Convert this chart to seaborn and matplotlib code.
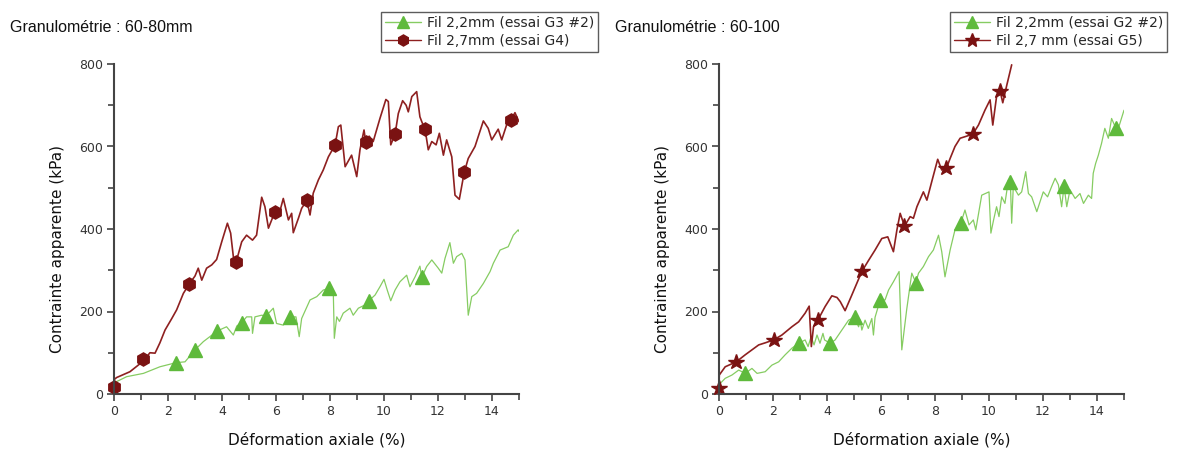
import matplotlib
matplotlib.use("Agg")
import matplotlib.pyplot as plt
import seaborn as sns
import pandas as pd
from matplotlib.lines import Line2D

# ---------------- data ----------------
# Left panel: Granulométrie 60-80mm
g4_x = [0.0, 0.02, 0.1, 0.59, 1.09, 1.33, 1.52, 1.70, 1.89, 2.14, 2.32, 2.57, 2.79, 3.0, 3.12, 3.25,
        3.43, 3.62, 3.80, 3.99, 4.20, 4.32, 4.42, 4.52, 4.73, 4.91, 5.13, 5.28, 5.47, 5.59, 5.72, 5.96,
        6.09, 6.27, 6.46, 6.58, 6.64, 6.83, 6.95, 7.14, 7.26, 7.38, 7.57, 7.75, 7.94, 8.19, 8.31, 8.40,
        8.56, 8.80, 8.99, 9.11, 9.26, 9.32, 9.45, 9.60, 9.85, 10.07, 10.16, 10.25, 10.41, 10.53, 10.69,
        10.82, 10.90, 11.03, 11.21, 11.33, 11.40, 11.52, 11.64, 11.77, 11.93, 12.05, 12.20, 12.32, 12.51,
        12.63, 12.79, 12.97, 13.12, 13.37, 13.68, 13.86, 13.99, 14.23, 14.36, 14.54, 14.70, 14.85, 15.0]
g4_y = [15, 36, 40, 54, 80, 100, 99, 124, 155, 183, 204, 244, 267, 286, 305, 276,
        305, 313, 326, 369, 414, 390, 333, 319, 369, 385, 373, 385, 477, 454, 402, 442,
        430, 474, 422, 438, 391, 426, 450, 470, 434, 487, 519, 543, 575, 604, 648, 652,
        551, 579, 527, 592, 640, 612, 625, 612, 668, 714, 709, 604, 630, 680, 711,
        700, 684, 721, 733, 672, 660, 642, 592, 612, 604, 632, 579, 616, 575,
        482, 472, 537, 571, 600, 662, 644, 616, 642, 616, 652, 664, 682, 660]
g4_mx = [0.0, 1.09, 2.79, 4.52, 5.96, 7.14, 8.19, 9.32, 10.41, 11.52, 12.97, 14.70]
g4_my = [17, 85, 267, 319, 442, 470, 604, 612, 630, 642, 537, 664]

g3_x = [0.0, 0.47, 1.09, 1.70, 2.30, 2.63, 3.0, 3.31, 3.83, 4.17, 4.42, 4.55, 4.74, 4.91, 5.10, 5.13,
        5.22, 5.47, 5.63, 5.90, 6.02, 6.27, 6.40, 6.52, 6.74, 6.86, 6.95, 7.26, 7.51, 7.75, 7.97, 8.12,
        8.16, 8.25, 8.35, 8.49, 8.74, 8.86, 9.05, 9.30, 9.44, 9.67, 9.85, 10.0, 10.12, 10.25, 10.41,
        10.59, 10.84, 10.96, 11.15, 11.33, 11.40, 11.58, 11.77, 12.01, 12.14, 12.26, 12.44, 12.57,
        12.69, 12.88, 13.0, 13.12, 13.25, 13.43, 13.68, 13.93, 14.05, 14.30, 14.60, 14.79, 14.97, 15.0]
g3_y = [27, 42, 50, 66, 76, 78, 107, 127, 153, 163, 143, 165, 173, 187, 187, 147,
        187, 191, 189, 208, 171, 167, 175, 187, 187, 139, 183, 228, 236, 252, 256, 252,
        135, 187, 176, 196, 208, 191, 208, 216, 226, 240, 260, 278, 252, 226, 252,
        272, 288, 260, 284, 310, 283, 309, 325, 305, 293, 329, 367, 317,
        333, 341, 325, 191, 236, 244, 268, 297, 317, 349, 357, 385, 398, 394]
g3_mx = [2.30, 3.0, 3.83, 4.74, 5.63, 6.52, 7.97, 9.44, 11.40]
g3_my = [76, 107, 153, 173, 189, 187, 256, 226, 283]

# Right panel: Granulométrie 60-100
g5_x = [0.0, 0.01, 0.23, 0.64, 0.97, 1.47, 1.71, 2.02, 2.33, 2.70, 2.95, 3.19, 3.34, 3.42, 3.50, 3.66,
        3.93, 4.18, 4.37, 4.49, 4.67, 4.92, 5.29, 5.54, 5.78, 6.03, 6.25, 6.46, 6.59, 6.71, 6.87, 7.08,
        7.20, 7.33, 7.57, 7.70, 7.88, 8.10, 8.25, 8.42, 8.56, 8.74, 8.93, 9.17, 9.40, 9.61, 9.85, 10.04,
        10.14, 10.28, 10.41, 10.51, 10.66, 10.84]
g5_y = [14, 46, 66, 78, 95, 119, 124, 131, 143, 163, 175, 196, 213, 115, 163, 179,
        212, 238, 234, 224, 202, 240, 297, 324, 349, 377, 381, 345, 398, 438, 407, 430,
        426, 454, 490, 470, 515, 569, 543, 547, 571, 600, 620, 625, 630, 652, 688, 713,
        652, 721, 735, 706, 749, 798]
g5_mx = [0.0, 0.64, 2.02, 3.66, 5.29, 6.87, 8.42, 9.40, 10.41]
g5_my = [15, 78, 131, 179, 297, 407, 547, 630, 735]

g2_x = [0.0, 0.05, 0.23, 0.48, 0.73, 0.97, 1.22, 1.41, 1.71, 1.96, 2.21, 2.45, 2.70, 2.95, 3.19,
        3.30, 3.41, 3.52, 3.63, 3.74, 3.85, 3.91, 4.12, 4.30, 4.55, 4.80, 5.02, 5.17, 5.23, 5.29,
        5.41, 5.53, 5.66, 5.72, 5.78, 5.97, 6.15, 6.28, 6.46, 6.67, 6.77, 6.95, 7.14, 7.29, 7.39,
        7.57, 7.76, 7.94, 8.13, 8.25, 8.37, 8.56, 8.74, 8.96, 9.11, 9.26, 9.42, 9.51, 9.73, 10.0,
        10.07, 10.17, 10.28, 10.37, 10.47, 10.59, 10.72, 10.79, 10.84, 10.90, 11.09, 11.21, 11.36,
        11.46, 11.58, 11.77, 12.01, 12.17, 12.32, 12.45, 12.57, 12.69, 12.78, 12.88, 13.0, 13.19,
        13.37, 13.50, 13.68, 13.80, 13.86, 13.95, 14.05, 14.17, 14.29, 14.42, 14.54, 14.70, 14.81, 15.0]
g2_y = [14, 26, 38, 46, 58, 50, 62, 50, 54, 70, 78, 95, 111, 123, 131,
        115, 139, 119, 143, 123, 147, 131, 123, 131, 155, 179, 186, 163, 179, 155,
        179, 159, 183, 143, 186, 228, 228, 252, 272, 297, 107, 204, 293, 270, 293,
        309, 333, 349, 385, 345, 284, 349, 398, 415, 446, 410, 422, 398, 482, 490,
        390, 422, 454, 430, 478, 462, 519, 515, 414, 503, 482, 490, 539,
        486, 478, 442, 490, 478, 503, 523, 507, 454, 504, 454, 495, 474,
        486, 462, 482, 474, 535, 559, 579, 608, 644, 620, 668, 644, 648, 688]
g2_mx = [0.97, 2.95, 4.12, 5.02, 5.97, 7.29, 8.96, 10.79, 12.78, 14.70]
g2_my = [50, 123, 123, 186, 228, 270, 415, 515, 504, 644]

x_ticks = [0, 2, 4, 6, 8, 10, 12, 14]
y_ticks = [0, 200, 400, 600, 800]
titles = ["Granulométrie : 60-80mm", "Granulométrie : 60-100"]
leg_left = ["Fil 2,2mm (essai G3 #2)", "Fil 2,7mm (essai G4)"]
leg_right = ["Fil 2,2mm (essai G2 #2)", "Fil 2,7 mm (essai G5)"]
x_label = "Déformation axiale (%)"
y_label = "Contrainte apparente (kPa)"

# ---------------- style ----------------
sns.set_theme(style="ticks")
plt.rcParams['font.family'] = ['DejaVu Sans']

RED_LINE = "#8e2020"
RED_MK = "#7a1212"
GREEN_LINE = "#86cc62"
GREEN_MK = "#5fba3c"
SPINE = "#444444"

fig = plt.figure(figsize=(12, 4.5), dpi=100)
ax1 = fig.add_axes([114/1200, 56/450, 405/1200, 330/450])
ax2 = fig.add_axes([719/1200, 56/450, 405/1200, 330/450])


def draw(ax, gx, gy, gmx, gmy, rx, ry, rmx, rmy, rmarker, rms, labels, legend_right_px):
    sns.lineplot(x=gx, y=gy, ax=ax, color=GREEN_LINE, lw=0.9, sort=False, estimator=None)
    sns.lineplot(x=rx, y=ry, ax=ax, color=RED_LINE, lw=1.2, sort=False, estimator=None)
    ax.plot(gmx, gmy, ls="none", marker="^", ms=9.5, color=GREEN_MK, mec=GREEN_MK, clip_on=False)
    ax.plot(rmx, rmy, ls="none", marker=rmarker, ms=rms, color=RED_MK, mec=RED_MK, clip_on=False)
    ax.set_xlim(0, 15)
    ax.set_ylim(0, 800)
    ax.set_xticks(x_ticks)
    ax.set_yticks(y_ticks)
    ax.set_xticks(range(0, 16), minor=True)
    ax.set_yticks(range(0, 801, 100), minor=True)
    ax.tick_params(which="major", direction="out", length=5, width=1.2, colors=SPINE,
                   labelsize=9, labelcolor="#333333", pad=3)
    ax.tick_params(which="minor", direction="out", length=4, width=1.2, colors=SPINE)
    for s in ["top", "right"]:
        ax.spines[s].set_visible(False)
    for s in ["left", "bottom"]:
        ax.spines[s].set_color(SPINE)
        ax.spines[s].set_linewidth(1.5)
    ax.set_xlabel(x_label, fontsize=11, color="#111111")
    ax.set_ylabel(y_label, fontsize=11, color="#111111")
    ax.xaxis.set_label_coords(0.5, -0.115)
    ax.yaxis.set_label_coords(-0.12, 0.44)
    ax.set_facecolor("white")
    handles = [
        Line2D([], [], color=GREEN_LINE, lw=1.0, marker="^", ms=8, mfc=GREEN_MK, mec=GREEN_MK),
        Line2D([], [], color=RED_LINE, lw=1.0, marker=rmarker, ms=rms - 1.5, mfc=RED_MK, mec=RED_MK),
    ]
    fig.legend(handles, labels, loc="upper right",
               bbox_to_anchor=(legend_right_px / 1200, 1 - 12 / 450),
               fontsize=10, frameon=True, fancybox=False, edgecolor="#333333",
               handlelength=2.6, handletextpad=0.4, borderpad=0.3, labelspacing=0.25,
               borderaxespad=0.0)
    return ax


draw(ax1, g3_x, g3_y, g3_mx, g3_my, g4_x, g4_y, g4_mx, g4_my, "h", 9.5, leg_left, 598)
draw(ax2, g2_x, g2_y, g2_mx, g2_my, g5_x, g5_y, g5_mx, g5_my, "*", 11.5, leg_right, 1167)

fig.text(10 / 1200, 1 - 27 / 450, titles[0], fontsize=11.5, va="center", ha="left",
         family=["Liberation Sans", "DejaVu Sans"], color="#111111")
fig.text(615 / 1200, 1 - 27 / 450, titles[1], fontsize=11.5, va="center", ha="left",
         family=["Liberation Sans", "DejaVu Sans"], color="#111111")

fig.savefig("out.png", dpi=100, facecolor="white")
